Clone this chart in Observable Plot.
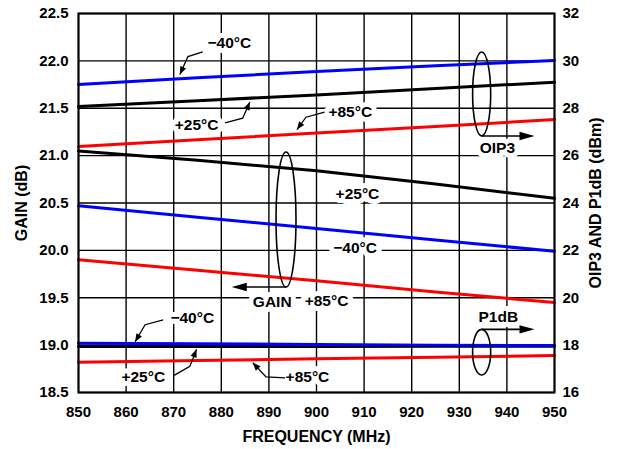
<!DOCTYPE html>
<html><head><meta charset="utf-8">
<script src="https://cdn.jsdelivr.net/npm/d3@7"></script>
<script src="https://cdn.jsdelivr.net/npm/@observablehq/plot@0.6"></script>
<style>body{margin:0;background:#fff}</style>
</head><body><div id="chart"></div>
<script>
// ---- data ----
const freq = [850, 875, 900, 925, 950];
// GAIN (dB), left axis
const gainM40 = [20.47, 20.35, 20.23, 20.11, 19.99];
const gainP25 = [21.05, 20.95, 20.84, 20.70, 20.55];
const gainP85 = [19.90, 19.79, 19.68, 19.56, 19.45];
// OIP3 (dBm), right axis
const oip3M40 = [29.00, 29.29, 29.55, 29.79, 30.02];
const oip3P25 = [28.07, 28.32, 28.56, 28.83, 29.10];
const oip3P85 = [26.39, 26.67, 26.95, 27.23, 27.52];
// P1dB (dBm), right axis
const p1M40 = [18.08, 18.06, 18.03, 18.00, 17.98];
const p1P25 = [17.94, 17.94, 17.94, 17.95, 17.95];
const p1P85 = [17.28, 17.35, 17.42, 17.49, 17.56];

const xTicks = [850, 860, 870, 880, 890, 900, 910, 920, 930, 940, 950];
const yTicks = [18.5, 19.0, 19.5, 20.0, 20.5, 21.0, 21.5, 22.0, 22.5];
const rightTickLabels = ["16", "18", "20", "22", "24", "26", "28", "30", "32"];

// annotations (data coordinates)
const labels = [
  {f: 881.7, g: 22.19, t: "\u221240\u00b0C"},
  {f: 874.8, g: 21.32, t: "+25\u00b0C"},
  {f: 907.1, g: 21.455, t: "+85\u00b0C"},
  {f: 938.0, g: 21.075, t: "OIP3"},
  {f: 908.6, g: 20.59, t: "+25\u00b0C"},
  {f: 908.1, g: 20.02, t: "\u221240\u00b0C"},
  {f: 890.7, g: 19.45, t: "GAIN"},
  {f: 902.1, g: 19.47, t: "+85\u00b0C"},
  {f: 938.2, g: 19.295, t: "P1dB"},
  {f: 873.9, g: 19.29, t: "\u221240\u00b0C"},
  {f: 863.6, g: 18.66, t: "+25\u00b0C"},
  {f: 898.1, g: 18.66, t: "+85\u00b0C"}
];
const leaders = [
  [[876.2, 22.09], [873.1, 22.04], [871.4, 21.85]],
  [[880.9, 21.34], [884.6, 21.39], [886.1, 21.56]],
  [[901.8, 21.455], [897.9, 21.40], [896.0, 21.27]],
  [[867.9, 19.26], [864.1, 19.21], [862.0, 19.03]],
  [[870.0, 18.67], [873.5, 18.77], [874.9, 18.95]],
  [[893.5, 18.65], [889.5, 18.66], [886.7, 18.81]]
];
const ellipses = [
  {f1: 932.9, f2: 936.7, g1: 21.202, g2: 22.088},
  {f1: 891.6, f2: 895.8, g1: 19.608, g2: 21.033},
  {f1: 932.9, f2: 936.7, g1: 18.68, g2: 19.161}
];
const bigArrows = [
  [[934.8, 21.202], [945.9, 21.202]],
  [[893.7, 19.608], [882.3, 19.608]],
  [[934.8, 19.161], [945.9, 19.161]]
];

// ---- build ----
const toG = v => 18.5 + (v - 16) / 4;
const mk = (vals, conv) => freq.map((f, i) => ({f, g: conv ? toG(vals[i]) : vals[i]}));

function arrowHead(g, p, q, L, W) {
  const dx = q[0] - p[0], dy = q[1] - p[1];
  const len = Math.hypot(dx, dy) || 1;
  const ux = dx / len, uy = dy / len;
  const bx = q[0] - ux * L, by = q[1] - uy * L;
  g.append("path")
    .attr("d", `M${q[0]},${q[1]}L${bx - uy * W},${by + ux * W}L${bx + uy * W},${by - ux * W}Z`)
    .attr("fill", "black");
}

function annot(index, scales) {
  const X = scales.x, Y = scales.y;
  const g = d3.create("svg:g");
  for (const e of ellipses) {
    const x1 = X(e.f1), x2 = X(e.f2), y1 = Y(e.g1), y2 = Y(e.g2);
    g.append("ellipse")
      .attr("cx", (x1 + x2) / 2).attr("cy", (y1 + y2) / 2)
      .attr("rx", Math.abs(x2 - x1) / 2).attr("ry", Math.abs(y2 - y1) / 2)
      .attr("fill", "none").attr("stroke", "black").attr("stroke-width", 1.6);
  }
  for (const a of bigArrows) {
    const p = [X(a[0][0]), Y(a[0][1])], q = [X(a[1][0]), Y(a[1][1])];
    const s = Math.sign(q[0] - p[0]);
    g.append("line").attr("x1", p[0]).attr("y1", p[1]).attr("x2", q[0] - s * 12).attr("y2", q[1])
      .attr("stroke", "black").attr("stroke-width", 1.6);
    arrowHead(g, p, q, 15, 4.2);
  }
  for (const l of leaders) {
    const pts = l.map(d => [X(d[0]), Y(d[1])]);
    g.append("path").attr("d", "M" + pts.map(p => p.join(",")).join("L"))
      .attr("fill", "none").attr("stroke", "black").attr("stroke-width", 1.3);
    arrowHead(g, pts[pts.length - 2], pts[pts.length - 1], 8, 3.2);
  }
  return g.node();
}

const tickFont = {fontSize: 15, fontWeight: "bold"};

const chart = Plot.plot({
  width: 619,
  height: 449,
  marginLeft: 78,
  marginRight: 65,
  marginTop: 13,
  marginBottom: 57,
  style: {fontFamily: "'Liberation Sans', Arial, sans-serif", background: "white", color: "black"},
  x: {domain: [850, 950]},
  y: {domain: [18.5, 22.5]},
  marks: [
    Plot.gridX(xTicks, {stroke: "black", strokeOpacity: 1, strokeWidth: 1.4}),
    Plot.gridY(yTicks, {stroke: "black", strokeOpacity: 1, strokeWidth: 1.4}),
    Plot.line(mk(oip3M40, true), {x: "f", y: "g", stroke: "#0000ff", strokeWidth: 3}),
    Plot.line(mk(oip3P25, true), {x: "f", y: "g", stroke: "black", strokeWidth: 3}),
    Plot.line(mk(oip3P85, true), {x: "f", y: "g", stroke: "#ff0000", strokeWidth: 3}),
    Plot.line(mk(gainP25, false), {x: "f", y: "g", stroke: "black", strokeWidth: 3}),
    Plot.line(mk(gainM40, false), {x: "f", y: "g", stroke: "#0000ff", strokeWidth: 3}),
    Plot.line(mk(gainP85, false), {x: "f", y: "g", stroke: "#ff0000", strokeWidth: 3}),
    Plot.line(mk(p1P25, true), {x: "f", y: "g", stroke: "black", strokeWidth: 3}),
    Plot.line(mk(p1M40, true), {x: "f", y: "g", stroke: "#0000ff", strokeWidth: 3}),
    Plot.line(mk(p1P85, true), {x: "f", y: "g", stroke: "#ff0000", strokeWidth: 3}),
    Plot.frame({stroke: "black", strokeWidth: 2}),
    Plot.text(labels, {x: "f", y: "g", text: "t", fill: "black", stroke: "white", strokeWidth: 10, fontSize: 15.5, fontWeight: "bold"}),
    annot,
    Plot.axisX({ticks: xTicks, tickSize: 0, tickPadding: 14, label: null, ...tickFont}),
    Plot.axisY({anchor: "left", ticks: yTicks, tickFormat: d => d.toFixed(1), tickSize: 0, tickPadding: 10, label: null, ...tickFont}),
    Plot.axisY({anchor: "right", ticks: yTicks, tickFormat: d => rightTickLabels[yTicks.indexOf(d)], tickSize: 0, tickPadding: 8, label: null, ...tickFont}),
    Plot.axisX({ticks: [], tickSize: 0, label: "FREQUENCY (MHz)", labelAnchor: "center", labelOffset: 49, labelArrow: "none", fontSize: 16, fontWeight: "bold"}),
    Plot.axisY({anchor: "left", ticks: [], tickSize: 0, label: "GAIN (dB)", labelAnchor: "center", labelOffset: 63, labelArrow: "none", fontSize: 16, fontWeight: "bold"}),
    Plot.axisY({anchor: "right", ticks: [], tickSize: 0, label: "OIP3 AND P1dB (dBm)", labelAnchor: "center", labelOffset: 46, labelArrow: "none", fontSize: 16, fontWeight: "bold"})
  ]
});
document.getElementById("chart").appendChild(chart);
</script>
</body></html>
